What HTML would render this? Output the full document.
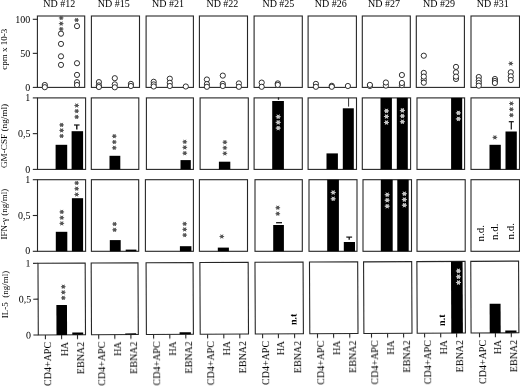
<!DOCTYPE html>
<html><head><meta charset="utf-8"><style>
html,body{margin:0;padding:0;background:#fff;}
body{width:520px;height:387px;overflow:hidden;}
svg{display:block;font-family:"Liberation Serif", serif;filter:grayscale(1);}
</style></head><body>
<svg width="520" height="387" viewBox="0 0 520 387" font-family='"Liberation Serif", serif' fill="#000">
<defs><filter id="b" x="0" y="0" width="1" height="1"><feGaussianBlur stdDeviation="0.35"/></filter></defs>
<rect width="520" height="387" fill="#fff"/>
<g filter="url(#b)">
<text x="59.25" y="7.00" font-size="10" text-anchor="middle" >ND #12</text>
<text x="113.85" y="7.00" font-size="10" text-anchor="middle" >ND #15</text>
<text x="168.00" y="7.00" font-size="10" text-anchor="middle" >ND #21</text>
<text x="222.40" y="7.00" font-size="10" text-anchor="middle" >ND #22</text>
<text x="278.40" y="7.00" font-size="10" text-anchor="middle" >ND #25</text>
<text x="330.85" y="7.00" font-size="10" text-anchor="middle" >ND #26</text>
<text x="384.05" y="7.00" font-size="10" text-anchor="middle" >ND #27</text>
<text x="439.05" y="7.00" font-size="10" text-anchor="middle" >ND #29</text>
<text x="492.75" y="7.00" font-size="10" text-anchor="middle" >ND #31</text>
<rect x="37.4" y="16.0" width="47.30" height="71.40" fill="none" stroke="#262626" stroke-width="1.1"/>
<rect x="91.4" y="16.0" width="48.10" height="71.40" fill="none" stroke="#262626" stroke-width="1.1"/>
<rect x="146.1" y="16.0" width="47.30" height="71.40" fill="none" stroke="#262626" stroke-width="1.1"/>
<rect x="199.4" y="16.0" width="48.10" height="71.40" fill="none" stroke="#262626" stroke-width="1.1"/>
<rect x="254.1" y="16.0" width="48.20" height="71.40" fill="none" stroke="#262626" stroke-width="1.1"/>
<rect x="308.1" y="16.0" width="48.30" height="71.40" fill="none" stroke="#262626" stroke-width="1.1"/>
<rect x="362.3" y="16.0" width="48.00" height="71.40" fill="none" stroke="#262626" stroke-width="1.1"/>
<rect x="416.3" y="16.0" width="48.10" height="71.40" fill="none" stroke="#262626" stroke-width="1.1"/>
<rect x="471.0" y="16.0" width="48.50" height="71.40" fill="none" stroke="#262626" stroke-width="1.1"/>
<rect x="37.5" y="97.9" width="48.10" height="71.50" fill="none" stroke="#262626" stroke-width="1.1"/>
<rect x="91.3" y="97.9" width="47.50" height="71.50" fill="none" stroke="#262626" stroke-width="1.1"/>
<rect x="146.4" y="97.9" width="47.00" height="71.50" fill="none" stroke="#262626" stroke-width="1.1"/>
<rect x="200.1" y="97.9" width="48.20" height="71.50" fill="none" stroke="#262626" stroke-width="1.1"/>
<rect x="254.1" y="97.9" width="48.20" height="71.50" fill="none" stroke="#262626" stroke-width="1.1"/>
<rect x="308.1" y="97.9" width="48.40" height="71.50" fill="none" stroke="#262626" stroke-width="1.1"/>
<rect x="362.3" y="97.9" width="48.30" height="71.50" fill="none" stroke="#262626" stroke-width="1.1"/>
<rect x="417.0" y="97.9" width="47.60" height="71.50" fill="none" stroke="#262626" stroke-width="1.1"/>
<rect x="471.0" y="97.9" width="48.50" height="71.50" fill="none" stroke="#262626" stroke-width="1.1"/>
<rect x="37.5" y="179.7" width="48.10" height="71.60" fill="none" stroke="#262626" stroke-width="1.1"/>
<rect x="91.4" y="179.7" width="47.30" height="71.60" fill="none" stroke="#262626" stroke-width="1.1"/>
<rect x="145.4" y="179.7" width="48.00" height="71.60" fill="none" stroke="#262626" stroke-width="1.1"/>
<rect x="199.4" y="179.7" width="48.10" height="71.60" fill="none" stroke="#262626" stroke-width="1.1"/>
<rect x="255.0" y="179.7" width="47.30" height="71.60" fill="none" stroke="#262626" stroke-width="1.1"/>
<rect x="309.0" y="179.7" width="48.00" height="71.60" fill="none" stroke="#262626" stroke-width="1.1"/>
<rect x="363.0" y="179.7" width="48.50" height="71.60" fill="none" stroke="#262626" stroke-width="1.1"/>
<rect x="417.0" y="179.7" width="48.20" height="71.60" fill="none" stroke="#262626" stroke-width="1.1"/>
<rect x="471.0" y="179.7" width="48.50" height="71.60" fill="none" stroke="#262626" stroke-width="1.1"/>
<line x1="32.8" y1="19.3" x2="37.4" y2="19.3" stroke="#262626" stroke-width="1.1"/>
<line x1="32.8" y1="53.35" x2="37.4" y2="53.35" stroke="#262626" stroke-width="1.1"/>
<line x1="32.8" y1="87.4" x2="37.4" y2="87.4" stroke="#262626" stroke-width="1.1"/>
<text x="30.30" y="22.50" font-size="10" text-anchor="end" >100</text>
<text x="30.30" y="56.55" font-size="10" text-anchor="end" >50</text>
<text x="30.30" y="90.60" font-size="10" text-anchor="end" >0</text>
<line x1="32.8" y1="97.9" x2="37.5" y2="97.9" stroke="#262626" stroke-width="1.1"/>
<line x1="32.8" y1="133.65" x2="37.5" y2="133.65" stroke="#262626" stroke-width="1.1"/>
<line x1="32.8" y1="169.4" x2="37.5" y2="169.4" stroke="#262626" stroke-width="1.1"/>
<text x="30.30" y="101.00" font-size="10" text-anchor="end" >1</text>
<text x="30.60" y="136.75" font-size="10" text-anchor="end" >0,5</text>
<text x="30.30" y="172.50" font-size="10" text-anchor="end" >0</text>
<line x1="32.8" y1="179.7" x2="37.5" y2="179.7" stroke="#262626" stroke-width="1.1"/>
<line x1="32.8" y1="215.5" x2="37.5" y2="215.5" stroke="#262626" stroke-width="1.1"/>
<line x1="32.8" y1="251.3" x2="37.5" y2="251.3" stroke="#262626" stroke-width="1.1"/>
<text x="30.30" y="182.80" font-size="10" text-anchor="end" >1</text>
<text x="30.60" y="218.60" font-size="10" text-anchor="end" >0,5</text>
<text x="30.30" y="254.40" font-size="10" text-anchor="end" >0</text>
<text transform="translate(7.30,49.20) rotate(-90)" font-size="9" text-anchor="middle" >cpm x 10-3</text>
<text transform="translate(7.30,136.00) rotate(-90)" font-size="9.2" text-anchor="middle" >GM-CSF (ng/ml)</text>
<text transform="translate(7.30,214.20) rotate(-90)" font-size="9" text-anchor="middle" >IFN-γ (ng/ml)</text>
<text transform="translate(7.60,294.50) rotate(-90)" font-size="9" text-anchor="middle" >IL-5  (ng/ml)</text>
<circle cx="44.8" cy="85" r="2.6" fill="#fff" stroke="#1a1a1a" stroke-width="0.9"/>
<circle cx="44.8" cy="87.2" r="2.6" fill="#fff" stroke="#1a1a1a" stroke-width="0.9"/>
<circle cx="61.0" cy="33.7" r="2.6" fill="#fff" stroke="#1a1a1a" stroke-width="0.9"/>
<circle cx="61.0" cy="43.9" r="2.6" fill="#fff" stroke="#1a1a1a" stroke-width="0.9"/>
<circle cx="61.0" cy="56.3" r="2.6" fill="#fff" stroke="#1a1a1a" stroke-width="0.9"/>
<circle cx="61.0" cy="64.9" r="2.6" fill="#fff" stroke="#1a1a1a" stroke-width="0.9"/>
<circle cx="77.0" cy="26.1" r="2.6" fill="#fff" stroke="#1a1a1a" stroke-width="0.9"/>
<circle cx="77.0" cy="63.2" r="2.6" fill="#fff" stroke="#1a1a1a" stroke-width="0.9"/>
<circle cx="77.0" cy="74.9" r="2.6" fill="#fff" stroke="#1a1a1a" stroke-width="0.9"/>
<circle cx="77.0" cy="82.2" r="2.6" fill="#fff" stroke="#1a1a1a" stroke-width="0.9"/>
<circle cx="77.0" cy="85" r="2.6" fill="#fff" stroke="#1a1a1a" stroke-width="0.9"/>
<circle cx="98.9" cy="82.1" r="2.6" fill="#fff" stroke="#1a1a1a" stroke-width="0.9"/>
<circle cx="98.9" cy="85.4" r="2.6" fill="#fff" stroke="#1a1a1a" stroke-width="0.9"/>
<circle cx="98.9" cy="87" r="2.6" fill="#fff" stroke="#1a1a1a" stroke-width="0.9"/>
<circle cx="114.8" cy="78.2" r="2.6" fill="#fff" stroke="#1a1a1a" stroke-width="0.9"/>
<circle cx="114.8" cy="84.4" r="2.6" fill="#fff" stroke="#1a1a1a" stroke-width="0.9"/>
<circle cx="114.8" cy="87.3" r="2.6" fill="#fff" stroke="#1a1a1a" stroke-width="0.9"/>
<circle cx="130.9" cy="83.9" r="2.6" fill="#fff" stroke="#1a1a1a" stroke-width="0.9"/>
<circle cx="130.9" cy="86" r="2.6" fill="#fff" stroke="#1a1a1a" stroke-width="0.9"/>
<circle cx="153.7" cy="81.8" r="2.6" fill="#fff" stroke="#1a1a1a" stroke-width="0.9"/>
<circle cx="153.7" cy="84.4" r="2.6" fill="#fff" stroke="#1a1a1a" stroke-width="0.9"/>
<circle cx="153.7" cy="86.5" r="2.6" fill="#fff" stroke="#1a1a1a" stroke-width="0.9"/>
<circle cx="169.8" cy="78.7" r="2.6" fill="#fff" stroke="#1a1a1a" stroke-width="0.9"/>
<circle cx="169.8" cy="82.8" r="2.6" fill="#fff" stroke="#1a1a1a" stroke-width="0.9"/>
<circle cx="169.8" cy="86" r="2.6" fill="#fff" stroke="#1a1a1a" stroke-width="0.9"/>
<circle cx="185.8" cy="86.5" r="2.6" fill="#fff" stroke="#1a1a1a" stroke-width="0.9"/>
<circle cx="206.9" cy="79.5" r="2.6" fill="#fff" stroke="#1a1a1a" stroke-width="0.9"/>
<circle cx="206.9" cy="84.1" r="2.6" fill="#fff" stroke="#1a1a1a" stroke-width="0.9"/>
<circle cx="206.9" cy="86.8" r="2.6" fill="#fff" stroke="#1a1a1a" stroke-width="0.9"/>
<circle cx="222.8" cy="75.6" r="2.6" fill="#fff" stroke="#1a1a1a" stroke-width="0.9"/>
<circle cx="222.8" cy="83.9" r="2.6" fill="#fff" stroke="#1a1a1a" stroke-width="0.9"/>
<circle cx="222.8" cy="86" r="2.6" fill="#fff" stroke="#1a1a1a" stroke-width="0.9"/>
<circle cx="238.9" cy="83.4" r="2.6" fill="#fff" stroke="#1a1a1a" stroke-width="0.9"/>
<circle cx="238.9" cy="86.8" r="2.6" fill="#fff" stroke="#1a1a1a" stroke-width="0.9"/>
<circle cx="261.7" cy="82.6" r="2.6" fill="#fff" stroke="#1a1a1a" stroke-width="0.9"/>
<circle cx="261.7" cy="86.8" r="2.6" fill="#fff" stroke="#1a1a1a" stroke-width="0.9"/>
<circle cx="277.8" cy="83.4" r="2.6" fill="#fff" stroke="#1a1a1a" stroke-width="0.9"/>
<circle cx="277.8" cy="84.9" r="2.6" fill="#fff" stroke="#1a1a1a" stroke-width="0.9"/>
<circle cx="315.9" cy="83.9" r="2.6" fill="#fff" stroke="#1a1a1a" stroke-width="0.9"/>
<circle cx="315.9" cy="86.8" r="2.6" fill="#fff" stroke="#1a1a1a" stroke-width="0.9"/>
<circle cx="331.8" cy="85.8" r="2.6" fill="#fff" stroke="#1a1a1a" stroke-width="0.9"/>
<circle cx="331.8" cy="86.8" r="2.6" fill="#fff" stroke="#1a1a1a" stroke-width="0.9"/>
<circle cx="347.9" cy="86" r="2.6" fill="#fff" stroke="#1a1a1a" stroke-width="0.9"/>
<circle cx="369.9" cy="86" r="2.6" fill="#fff" stroke="#1a1a1a" stroke-width="0.9"/>
<circle cx="369.9" cy="84.9" r="2.6" fill="#fff" stroke="#1a1a1a" stroke-width="0.9"/>
<circle cx="385.9" cy="85.6" r="2.6" fill="#fff" stroke="#1a1a1a" stroke-width="0.9"/>
<circle cx="385.9" cy="82.5" r="2.6" fill="#fff" stroke="#1a1a1a" stroke-width="0.9"/>
<circle cx="401.9" cy="75.0" r="2.6" fill="#fff" stroke="#1a1a1a" stroke-width="0.9"/>
<circle cx="401.9" cy="85.2" r="2.6" fill="#fff" stroke="#1a1a1a" stroke-width="0.9"/>
<circle cx="401.9" cy="83.0" r="2.6" fill="#fff" stroke="#1a1a1a" stroke-width="0.9"/>
<circle cx="423.8" cy="55.7" r="2.6" fill="#fff" stroke="#1a1a1a" stroke-width="0.9"/>
<circle cx="423.8" cy="72.9" r="2.6" fill="#fff" stroke="#1a1a1a" stroke-width="0.9"/>
<circle cx="423.8" cy="79.7" r="2.6" fill="#fff" stroke="#1a1a1a" stroke-width="0.9"/>
<circle cx="423.8" cy="76.6" r="2.6" fill="#fff" stroke="#1a1a1a" stroke-width="0.9"/>
<circle cx="423.8" cy="82.7" r="2.6" fill="#fff" stroke="#1a1a1a" stroke-width="0.9"/>
<circle cx="456.0" cy="79" r="2.6" fill="#fff" stroke="#1a1a1a" stroke-width="0.9"/>
<circle cx="456.0" cy="72.3" r="2.6" fill="#fff" stroke="#1a1a1a" stroke-width="0.9"/>
<circle cx="456.0" cy="66.9" r="2.6" fill="#fff" stroke="#1a1a1a" stroke-width="0.9"/>
<circle cx="456.0" cy="76.6" r="2.6" fill="#fff" stroke="#1a1a1a" stroke-width="0.9"/>
<circle cx="478.8" cy="77" r="2.6" fill="#fff" stroke="#1a1a1a" stroke-width="0.9"/>
<circle cx="478.8" cy="80.3" r="2.6" fill="#fff" stroke="#1a1a1a" stroke-width="0.9"/>
<circle cx="478.8" cy="83" r="2.6" fill="#fff" stroke="#1a1a1a" stroke-width="0.9"/>
<circle cx="478.8" cy="85.7" r="2.6" fill="#fff" stroke="#1a1a1a" stroke-width="0.9"/>
<circle cx="494.9" cy="79" r="2.6" fill="#fff" stroke="#1a1a1a" stroke-width="0.9"/>
<circle cx="494.9" cy="81" r="2.6" fill="#fff" stroke="#1a1a1a" stroke-width="0.9"/>
<circle cx="494.9" cy="83" r="2.6" fill="#fff" stroke="#1a1a1a" stroke-width="0.9"/>
<circle cx="510.8" cy="72.3" r="2.6" fill="#fff" stroke="#1a1a1a" stroke-width="0.9"/>
<circle cx="510.8" cy="76.3" r="2.6" fill="#fff" stroke="#1a1a1a" stroke-width="0.9"/>
<circle cx="510.8" cy="80" r="2.6" fill="#fff" stroke="#1a1a1a" stroke-width="0.9"/>
<path d="M59.25,17.90L63.15,17.90M60.23,16.21L62.18,19.59M62.18,16.21L60.23,19.59" stroke="#555555" stroke-width="0.9" stroke-linecap="round" fill="none"/><circle cx="61.20" cy="17.90" r="1.6" fill="#555555"/>
<path d="M59.25,23.60L63.15,23.60M60.23,21.91L62.18,25.29M62.18,21.91L60.23,25.29" stroke="#555555" stroke-width="0.9" stroke-linecap="round" fill="none"/><circle cx="61.20" cy="23.60" r="1.6" fill="#555555"/>
<path d="M59.25,29.00L63.15,29.00M60.23,27.31L62.18,30.69M62.18,27.31L60.23,30.69" stroke="#555555" stroke-width="0.9" stroke-linecap="round" fill="none"/><circle cx="61.20" cy="29.00" r="1.6" fill="#555555"/>
<path d="M74.65,20.00L78.55,20.00M75.62,18.31L77.57,21.69M77.57,18.31L75.62,21.69" stroke="#555555" stroke-width="0.9" stroke-linecap="round" fill="none"/><circle cx="76.60" cy="20.00" r="1.6" fill="#555555"/>
<path d="M508.85,63.50L512.75,63.50M509.82,61.81L511.78,65.19M511.78,61.81L509.82,65.19" stroke="#555555" stroke-width="0.9" stroke-linecap="round" fill="none"/><circle cx="510.80" cy="63.50" r="1.6" fill="#555555"/>
<rect x="55.6" y="144.8" width="11.60" height="24.60" fill="#000"/>
<rect x="71.6" y="131.2" width="11.50" height="38.20" fill="#000"/>
<rect x="109.5" y="155.8" width="10.80" height="13.60" fill="#000"/>
<rect x="180.5" y="160.1" width="10.30" height="9.30" fill="#000"/>
<rect x="218.9" y="161.7" width="11.40" height="7.70" fill="#000"/>
<rect x="272.2" y="101.0" width="11.70" height="68.40" fill="#000"/>
<rect x="326.5" y="153.4" width="11.40" height="16.00" fill="#000"/>
<rect x="342.8" y="108.3" width="11.00" height="61.10" fill="#000"/>
<rect x="380.5" y="97.9" width="11.40" height="71.50" fill="#000"/>
<rect x="396.8" y="97.9" width="11.00" height="71.50" fill="#000"/>
<rect x="451.1" y="97.9" width="11.10" height="71.50" fill="#000"/>
<rect x="489.5" y="144.8" width="11.30" height="24.60" fill="#000"/>
<rect x="505.5" y="131.5" width="11.30" height="37.90" fill="#000"/>
<line x1="76.8" y1="125.0" x2="76.8" y2="129.4" stroke="#111" stroke-width="1.4"/><line x1="74.0" y1="125.0" x2="79.6" y2="125.0" stroke="#111" stroke-width="1.2"/>
<line x1="511.3" y1="121.7" x2="511.3" y2="129.5" stroke="#111" stroke-width="1.2"/><line x1="508.8" y1="121.7" x2="513.8" y2="121.7" stroke="#111" stroke-width="1.2"/>
<line x1="278.5" y1="97.30000000000001" x2="278.5" y2="99.8" stroke="#222" stroke-width="1.3"/>
<line x1="348.6" y1="97.9" x2="348.6" y2="106.6" stroke="#333" stroke-width="1.0"/>
<path d="M59.65,124.90L63.55,124.90M60.62,123.21L62.58,126.59M62.58,123.21L60.62,126.59" stroke="#555555" stroke-width="0.9" stroke-linecap="round" fill="none"/><circle cx="61.60" cy="124.90" r="1.6" fill="#555555"/>
<path d="M59.65,130.40L63.55,130.40M60.62,128.71L62.58,132.09M62.58,128.71L60.62,132.09" stroke="#555555" stroke-width="0.9" stroke-linecap="round" fill="none"/><circle cx="61.60" cy="130.40" r="1.6" fill="#555555"/>
<path d="M59.65,136.00L63.55,136.00M60.62,134.31L62.58,137.69M62.58,134.31L60.62,137.69" stroke="#555555" stroke-width="0.9" stroke-linecap="round" fill="none"/><circle cx="61.60" cy="136.00" r="1.6" fill="#555555"/>
<path d="M74.75,105.50L78.65,105.50M75.73,103.81L77.67,107.19M77.67,103.81L75.73,107.19" stroke="#555555" stroke-width="0.9" stroke-linecap="round" fill="none"/><circle cx="76.70" cy="105.50" r="1.6" fill="#555555"/>
<path d="M74.75,111.10L78.65,111.10M75.73,109.41L77.67,112.79M77.67,109.41L75.73,112.79" stroke="#555555" stroke-width="0.9" stroke-linecap="round" fill="none"/><circle cx="76.70" cy="111.10" r="1.6" fill="#555555"/>
<path d="M74.75,116.90L78.65,116.90M75.73,115.21L77.67,118.59M77.67,115.21L75.73,118.59" stroke="#555555" stroke-width="0.9" stroke-linecap="round" fill="none"/><circle cx="76.70" cy="116.90" r="1.6" fill="#555555"/>
<path d="M112.35,136.20L116.25,136.20M113.33,134.51L115.27,137.89M115.27,134.51L113.33,137.89" stroke="#555555" stroke-width="0.9" stroke-linecap="round" fill="none"/><circle cx="114.30" cy="136.20" r="1.6" fill="#555555"/>
<path d="M112.35,142.00L116.25,142.00M113.33,140.31L115.27,143.69M115.27,140.31L113.33,143.69" stroke="#555555" stroke-width="0.9" stroke-linecap="round" fill="none"/><circle cx="114.30" cy="142.00" r="1.6" fill="#555555"/>
<path d="M112.35,147.80L116.25,147.80M113.33,146.11L115.27,149.49M115.27,146.11L113.33,149.49" stroke="#555555" stroke-width="0.9" stroke-linecap="round" fill="none"/><circle cx="114.30" cy="147.80" r="1.6" fill="#555555"/>
<path d="M182.85,141.80L186.75,141.80M183.83,140.11L185.78,143.49M185.78,140.11L183.83,143.49" stroke="#555555" stroke-width="0.9" stroke-linecap="round" fill="none"/><circle cx="184.80" cy="141.80" r="1.6" fill="#555555"/>
<path d="M182.85,147.40L186.75,147.40M183.83,145.71L185.78,149.09M185.78,145.71L183.83,149.09" stroke="#555555" stroke-width="0.9" stroke-linecap="round" fill="none"/><circle cx="184.80" cy="147.40" r="1.6" fill="#555555"/>
<path d="M182.85,153.20L186.75,153.20M183.83,151.51L185.78,154.89M185.78,151.51L183.83,154.89" stroke="#555555" stroke-width="0.9" stroke-linecap="round" fill="none"/><circle cx="184.80" cy="153.20" r="1.6" fill="#555555"/>
<path d="M222.95,142.20L226.85,142.20M223.93,140.51L225.88,143.89M225.88,140.51L223.93,143.89" stroke="#555555" stroke-width="0.9" stroke-linecap="round" fill="none"/><circle cx="224.90" cy="142.20" r="1.6" fill="#555555"/>
<path d="M222.95,147.80L226.85,147.80M223.93,146.11L225.88,149.49M225.88,146.11L223.93,149.49" stroke="#555555" stroke-width="0.9" stroke-linecap="round" fill="none"/><circle cx="224.90" cy="147.80" r="1.6" fill="#555555"/>
<path d="M222.95,153.40L226.85,153.40M223.93,151.71L225.88,155.09M225.88,151.71L223.93,155.09" stroke="#555555" stroke-width="0.9" stroke-linecap="round" fill="none"/><circle cx="224.90" cy="153.40" r="1.6" fill="#555555"/>
<path d="M276.05,116.70L280.35,116.70M277.12,114.84L279.27,118.56M279.27,114.84L277.12,118.56" stroke="#c4c4c4" stroke-width="1.0" stroke-linecap="round" fill="none"/><circle cx="278.20" cy="116.70" r="1.8" fill="#c4c4c4"/>
<path d="M276.05,122.40L280.35,122.40M277.12,120.54L279.27,124.26M279.27,120.54L277.12,124.26" stroke="#c4c4c4" stroke-width="1.0" stroke-linecap="round" fill="none"/><circle cx="278.20" cy="122.40" r="1.8" fill="#c4c4c4"/>
<path d="M276.05,128.10L280.35,128.10M277.12,126.24L279.27,129.96M279.27,126.24L277.12,129.96" stroke="#c4c4c4" stroke-width="1.0" stroke-linecap="round" fill="none"/><circle cx="278.20" cy="128.10" r="1.8" fill="#c4c4c4"/>
<path d="M384.35,110.90L388.65,110.90M385.43,109.04L387.57,112.76M387.57,109.04L385.43,112.76" stroke="#c4c4c4" stroke-width="1.0" stroke-linecap="round" fill="none"/><circle cx="386.50" cy="110.90" r="1.8" fill="#c4c4c4"/>
<path d="M384.35,116.50L388.65,116.50M385.43,114.64L387.57,118.36M387.57,114.64L385.43,118.36" stroke="#c4c4c4" stroke-width="1.0" stroke-linecap="round" fill="none"/><circle cx="386.50" cy="116.50" r="1.8" fill="#c4c4c4"/>
<path d="M384.35,122.50L388.65,122.50M385.43,120.64L387.57,124.36M387.57,120.64L385.43,124.36" stroke="#c4c4c4" stroke-width="1.0" stroke-linecap="round" fill="none"/><circle cx="386.50" cy="122.50" r="1.8" fill="#c4c4c4"/>
<path d="M400.25,110.40L404.55,110.40M401.32,108.54L403.47,112.26M403.47,108.54L401.32,112.26" stroke="#c4c4c4" stroke-width="1.0" stroke-linecap="round" fill="none"/><circle cx="402.40" cy="110.40" r="1.8" fill="#c4c4c4"/>
<path d="M400.25,116.00L404.55,116.00M401.32,114.14L403.47,117.86M403.47,114.14L401.32,117.86" stroke="#c4c4c4" stroke-width="1.0" stroke-linecap="round" fill="none"/><circle cx="402.40" cy="116.00" r="1.8" fill="#c4c4c4"/>
<path d="M400.25,121.70L404.55,121.70M401.32,119.84L403.47,123.56M403.47,119.84L401.32,123.56" stroke="#c4c4c4" stroke-width="1.0" stroke-linecap="round" fill="none"/><circle cx="402.40" cy="121.70" r="1.8" fill="#c4c4c4"/>
<path d="M456.25,112.90L460.55,112.90M457.32,111.04L459.47,114.76M459.47,111.04L457.32,114.76" stroke="#c4c4c4" stroke-width="1.0" stroke-linecap="round" fill="none"/><circle cx="458.40" cy="112.90" r="1.8" fill="#c4c4c4"/>
<path d="M456.25,118.90L460.55,118.90M457.32,117.04L459.47,120.76M459.47,117.04L457.32,120.76" stroke="#c4c4c4" stroke-width="1.0" stroke-linecap="round" fill="none"/><circle cx="458.40" cy="118.90" r="1.8" fill="#c4c4c4"/>
<path d="M492.95,137.40L496.85,137.40M493.92,135.71L495.88,139.09M495.88,135.71L493.92,139.09" stroke="#555555" stroke-width="0.9" stroke-linecap="round" fill="none"/><circle cx="494.90" cy="137.40" r="1.6" fill="#555555"/>
<path d="M509.45,103.50L513.35,103.50M510.42,101.81L512.38,105.19M512.38,101.81L510.42,105.19" stroke="#555555" stroke-width="0.9" stroke-linecap="round" fill="none"/><circle cx="511.40" cy="103.50" r="1.6" fill="#555555"/>
<path d="M509.45,109.30L513.35,109.30M510.42,107.61L512.38,110.99M512.38,107.61L510.42,110.99" stroke="#555555" stroke-width="0.9" stroke-linecap="round" fill="none"/><circle cx="511.40" cy="109.30" r="1.6" fill="#555555"/>
<path d="M509.45,115.20L513.35,115.20M510.42,113.51L512.38,116.89M512.38,113.51L510.42,116.89" stroke="#555555" stroke-width="0.9" stroke-linecap="round" fill="none"/><circle cx="511.40" cy="115.20" r="1.6" fill="#555555"/>
<rect x="55.8" y="231.8" width="11.50" height="19.50" fill="#000"/>
<rect x="71.9" y="198.2" width="11.20" height="53.10" fill="#000"/>
<rect x="109.8" y="240.1" width="10.90" height="11.20" fill="#000"/>
<rect x="125.7" y="249.6" width="10.70" height="1.70" fill="#000"/>
<rect x="179.9" y="246.2" width="11.50" height="5.10" fill="#000"/>
<rect x="217.8" y="247.6" width="11.10" height="3.70" fill="#000"/>
<rect x="273.2" y="225.0" width="10.70" height="26.30" fill="#000"/>
<rect x="327.2" y="179.7" width="11.70" height="71.60" fill="#000"/>
<rect x="343.8" y="242.0" width="11.20" height="9.30" fill="#000"/>
<rect x="380.8" y="179.7" width="11.90" height="71.60" fill="#000"/>
<rect x="397.3" y="179.7" width="11.40" height="71.60" fill="#000"/>
<line x1="276.1" y1="222.7" x2="282.0" y2="222.7" stroke="#222" stroke-width="1.4"/>
<line x1="349.2" y1="237.1" x2="349.2" y2="239.8" stroke="#111" stroke-width="1.3"/><line x1="346.3" y1="237.1" x2="352.09999999999997" y2="237.1" stroke="#111" stroke-width="1.2"/>
<path d="M59.85,211.90L63.75,211.90M60.82,210.21L62.77,213.59M62.77,210.21L60.82,213.59" stroke="#555555" stroke-width="0.9" stroke-linecap="round" fill="none"/><circle cx="61.80" cy="211.90" r="1.6" fill="#555555"/>
<path d="M59.85,217.70L63.75,217.70M60.82,216.01L62.77,219.39M62.77,216.01L60.82,219.39" stroke="#555555" stroke-width="0.9" stroke-linecap="round" fill="none"/><circle cx="61.80" cy="217.70" r="1.6" fill="#555555"/>
<path d="M59.85,223.40L63.75,223.40M60.82,221.71L62.77,225.09M62.77,221.71L60.82,225.09" stroke="#555555" stroke-width="0.9" stroke-linecap="round" fill="none"/><circle cx="61.80" cy="223.40" r="1.6" fill="#555555"/>
<path d="M74.75,183.00L78.65,183.00M75.73,181.31L77.67,184.69M77.67,181.31L75.73,184.69" stroke="#555555" stroke-width="0.9" stroke-linecap="round" fill="none"/><circle cx="76.70" cy="183.00" r="1.6" fill="#555555"/>
<path d="M74.75,188.70L78.65,188.70M75.73,187.01L77.67,190.39M77.67,187.01L75.73,190.39" stroke="#555555" stroke-width="0.9" stroke-linecap="round" fill="none"/><circle cx="76.70" cy="188.70" r="1.6" fill="#555555"/>
<path d="M74.75,194.50L78.65,194.50M75.73,192.81L77.67,196.19M77.67,192.81L75.73,196.19" stroke="#555555" stroke-width="0.9" stroke-linecap="round" fill="none"/><circle cx="76.70" cy="194.50" r="1.6" fill="#555555"/>
<path d="M112.65,224.00L116.55,224.00M113.62,222.31L115.57,225.69M115.57,222.31L113.62,225.69" stroke="#555555" stroke-width="0.9" stroke-linecap="round" fill="none"/><circle cx="114.60" cy="224.00" r="1.6" fill="#555555"/>
<path d="M112.65,229.80L116.55,229.80M113.62,228.11L115.57,231.49M115.57,228.11L113.62,231.49" stroke="#555555" stroke-width="0.9" stroke-linecap="round" fill="none"/><circle cx="114.60" cy="229.80" r="1.6" fill="#555555"/>
<path d="M182.75,223.80L186.65,223.80M183.72,222.11L185.67,225.49M185.67,222.11L183.72,225.49" stroke="#555555" stroke-width="0.9" stroke-linecap="round" fill="none"/><circle cx="184.70" cy="223.80" r="1.6" fill="#555555"/>
<path d="M182.75,229.40L186.65,229.40M183.72,227.71L185.67,231.09M185.67,227.71L183.72,231.09" stroke="#555555" stroke-width="0.9" stroke-linecap="round" fill="none"/><circle cx="184.70" cy="229.40" r="1.6" fill="#555555"/>
<path d="M182.75,235.10L186.65,235.10M183.72,233.41L185.67,236.79M185.67,233.41L183.72,236.79" stroke="#555555" stroke-width="0.9" stroke-linecap="round" fill="none"/><circle cx="184.70" cy="235.10" r="1.6" fill="#555555"/>
<path d="M219.85,236.50L223.75,236.50M220.83,234.81L222.78,238.19M222.78,234.81L220.83,238.19" stroke="#555555" stroke-width="0.9" stroke-linecap="round" fill="none"/><circle cx="221.80" cy="236.50" r="1.6" fill="#555555"/>
<path d="M275.85,207.70L279.75,207.70M276.82,206.01L278.78,209.39M278.78,206.01L276.82,209.39" stroke="#555555" stroke-width="0.9" stroke-linecap="round" fill="none"/><circle cx="277.80" cy="207.70" r="1.6" fill="#555555"/>
<path d="M275.85,213.70L279.75,213.70M276.82,212.01L278.78,215.39M278.78,212.01L276.82,215.39" stroke="#555555" stroke-width="0.9" stroke-linecap="round" fill="none"/><circle cx="277.80" cy="213.70" r="1.6" fill="#555555"/>
<path d="M331.05,192.50L335.35,192.50M332.12,190.64L334.27,194.36M334.27,190.64L332.12,194.36" stroke="#c4c4c4" stroke-width="1.0" stroke-linecap="round" fill="none"/><circle cx="333.20" cy="192.50" r="1.8" fill="#c4c4c4"/>
<path d="M331.05,198.80L335.35,198.80M332.12,196.94L334.27,200.66M334.27,196.94L332.12,200.66" stroke="#c4c4c4" stroke-width="1.0" stroke-linecap="round" fill="none"/><circle cx="333.20" cy="198.80" r="1.8" fill="#c4c4c4"/>
<path d="M385.05,194.70L389.35,194.70M386.12,192.84L388.27,196.56M388.27,192.84L386.12,196.56" stroke="#c4c4c4" stroke-width="1.0" stroke-linecap="round" fill="none"/><circle cx="387.20" cy="194.70" r="1.8" fill="#c4c4c4"/>
<path d="M385.05,200.20L389.35,200.20M386.12,198.34L388.27,202.06M388.27,198.34L386.12,202.06" stroke="#c4c4c4" stroke-width="1.0" stroke-linecap="round" fill="none"/><circle cx="387.20" cy="200.20" r="1.8" fill="#c4c4c4"/>
<path d="M385.05,206.20L389.35,206.20M386.12,204.34L388.27,208.06M388.27,204.34L386.12,208.06" stroke="#c4c4c4" stroke-width="1.0" stroke-linecap="round" fill="none"/><circle cx="387.20" cy="206.20" r="1.8" fill="#c4c4c4"/>
<path d="M402.25,193.70L406.55,193.70M403.32,191.84L405.47,195.56M405.47,191.84L403.32,195.56" stroke="#c4c4c4" stroke-width="1.0" stroke-linecap="round" fill="none"/><circle cx="404.40" cy="193.70" r="1.8" fill="#c4c4c4"/>
<path d="M402.25,199.60L406.55,199.60M403.32,197.74L405.47,201.46M405.47,197.74L403.32,201.46" stroke="#c4c4c4" stroke-width="1.0" stroke-linecap="round" fill="none"/><circle cx="404.40" cy="199.60" r="1.8" fill="#c4c4c4"/>
<path d="M402.25,205.20L406.55,205.20M403.32,203.34L405.47,207.06M405.47,203.34L403.32,207.06" stroke="#c4c4c4" stroke-width="1.0" stroke-linecap="round" fill="none"/><circle cx="404.40" cy="205.20" r="1.8" fill="#c4c4c4"/>
<text transform="translate(483.90,241.40) rotate(-90)" font-size="11" text-anchor="start" >n.d.</text>
<text transform="translate(497.80,240.00) rotate(-90)" font-size="11" text-anchor="start" >n.d.</text>
<text transform="translate(513.50,239.60) rotate(-90)" font-size="11" text-anchor="start" >n.d.</text>
<g transform="rotate(-0.26,40,335)">
<rect x="38.3" y="263.3" width="47.20" height="71.70" fill="none" stroke="#262626" stroke-width="1.1"/>
<rect x="91.5" y="263.3" width="46.80" height="71.70" fill="none" stroke="#262626" stroke-width="1.1"/>
<rect x="146.4" y="263.3" width="47.00" height="71.70" fill="none" stroke="#262626" stroke-width="1.1"/>
<rect x="200.2" y="263.3" width="48.30" height="71.70" fill="none" stroke="#262626" stroke-width="1.1"/>
<rect x="255.3" y="263.3" width="48.10" height="71.70" fill="none" stroke="#262626" stroke-width="1.1"/>
<rect x="309.8" y="263.3" width="48.20" height="71.70" fill="none" stroke="#262626" stroke-width="1.1"/>
<rect x="363.9" y="263.3" width="48.10" height="71.70" fill="none" stroke="#262626" stroke-width="1.1"/>
<rect x="417.2" y="263.3" width="48.20" height="71.70" fill="none" stroke="#262626" stroke-width="1.1"/>
<rect x="471.1" y="263.3" width="47.80" height="71.70" fill="none" stroke="#262626" stroke-width="1.1"/>
<line x1="33.4" y1="263.3" x2="38.3" y2="263.3" stroke="#262626" stroke-width="1.1"/>
<line x1="33.4" y1="299.15" x2="38.3" y2="299.15" stroke="#262626" stroke-width="1.1"/>
<line x1="33.4" y1="335.0" x2="38.3" y2="335.0" stroke="#262626" stroke-width="1.1"/>
<text x="30.90" y="266.40" font-size="10" text-anchor="end" >1</text>
<text x="31.30" y="302.45" font-size="10" text-anchor="end" >0,5</text>
<text x="30.90" y="338.40" font-size="10" text-anchor="end" >0</text>
<rect x="56.5" y="305.1" width="10.60" height="29.90" fill="#000"/>
<rect x="72.3" y="332.6" width="10.90" height="2.40" fill="#000"/>
<rect x="125.2" y="333.8" width="11.00" height="1.20" fill="#000"/>
<rect x="179.6" y="332.9" width="11.30" height="2.10" fill="#000"/>
<rect x="451.3" y="263.3" width="11.60" height="71.70" fill="#000"/>
<rect x="489.75" y="305.85" width="10.95" height="29.15" fill="#000"/>
<rect x="505.3" y="332.65" width="11.20" height="2.35" fill="#000"/>
<path d="M61.55,286.80L65.45,286.80M62.52,285.11L64.47,288.49M64.47,285.11L62.52,288.49" stroke="#555555" stroke-width="0.9" stroke-linecap="round" fill="none"/><circle cx="63.50" cy="286.80" r="1.6" fill="#555555"/>
<path d="M61.55,292.40L65.45,292.40M62.52,290.71L64.47,294.09M64.47,290.71L62.52,294.09" stroke="#555555" stroke-width="0.9" stroke-linecap="round" fill="none"/><circle cx="63.50" cy="292.40" r="1.6" fill="#555555"/>
<path d="M61.55,298.00L65.45,298.00M62.52,296.31L64.47,299.69M64.47,296.31L62.52,299.69" stroke="#555555" stroke-width="0.9" stroke-linecap="round" fill="none"/><circle cx="63.50" cy="298.00" r="1.6" fill="#555555"/>
<path d="M456.55,272.80L460.85,272.80M457.62,270.94L459.77,274.66M459.77,270.94L457.62,274.66" stroke="#c4c4c4" stroke-width="1.0" stroke-linecap="round" fill="none"/><circle cx="458.70" cy="272.80" r="1.8" fill="#c4c4c4"/>
<path d="M456.55,278.60L460.85,278.60M457.62,276.74L459.77,280.46M459.77,276.74L457.62,280.46" stroke="#c4c4c4" stroke-width="1.0" stroke-linecap="round" fill="none"/><circle cx="458.70" cy="278.60" r="1.8" fill="#c4c4c4"/>
<path d="M456.55,284.40L460.85,284.40M457.62,282.54L459.77,286.26M459.77,282.54L457.62,286.26" stroke="#c4c4c4" stroke-width="1.0" stroke-linecap="round" fill="none"/><circle cx="458.70" cy="284.40" r="1.8" fill="#c4c4c4"/>
<text transform="translate(296.50,326.17) rotate(-90)" font-size="10" text-anchor="start" font-weight="bold">n.t</text>
<text transform="translate(445.10,327.74) rotate(-90)" font-size="10" text-anchor="start" font-weight="bold">n.t</text>
<line x1="45.4" y1="335.0" x2="45.4" y2="339.3" stroke="#262626" stroke-width="1.1"/>
<text transform="translate(51.40,341.90) rotate(-90)" font-size="10" text-anchor="end" >CD4+APC</text>
<line x1="61.6" y1="335.0" x2="61.6" y2="339.3" stroke="#262626" stroke-width="1.1"/>
<text transform="translate(67.60,341.90) rotate(-90)" font-size="10" text-anchor="end" >HA</text>
<line x1="77.5" y1="335.0" x2="77.5" y2="339.3" stroke="#262626" stroke-width="1.1"/>
<text transform="translate(83.50,341.90) rotate(-90)" font-size="10" text-anchor="end" >EBNA2</text>
<line x1="98.7" y1="335.0" x2="98.7" y2="339.3" stroke="#262626" stroke-width="1.1"/>
<text transform="translate(104.70,341.90) rotate(-90)" font-size="10" text-anchor="end" >CD4+APC</text>
<line x1="114.8" y1="335.0" x2="114.8" y2="339.3" stroke="#262626" stroke-width="1.1"/>
<text transform="translate(120.80,341.90) rotate(-90)" font-size="10" text-anchor="end" >HA</text>
<line x1="130.9" y1="335.0" x2="130.9" y2="339.3" stroke="#262626" stroke-width="1.1"/>
<text transform="translate(136.90,341.90) rotate(-90)" font-size="10" text-anchor="end" >EBNA2</text>
<line x1="153.6" y1="335.0" x2="153.6" y2="339.3" stroke="#262626" stroke-width="1.1"/>
<text transform="translate(159.60,341.90) rotate(-90)" font-size="10" text-anchor="end" >CD4+APC</text>
<line x1="169.8" y1="335.0" x2="169.8" y2="339.3" stroke="#262626" stroke-width="1.1"/>
<text transform="translate(175.80,341.90) rotate(-90)" font-size="10" text-anchor="end" >HA</text>
<line x1="185.8" y1="335.0" x2="185.8" y2="339.3" stroke="#262626" stroke-width="1.1"/>
<text transform="translate(191.80,341.90) rotate(-90)" font-size="10" text-anchor="end" >EBNA2</text>
<line x1="207.6" y1="335.0" x2="207.6" y2="339.3" stroke="#262626" stroke-width="1.1"/>
<text transform="translate(213.60,341.90) rotate(-90)" font-size="10" text-anchor="end" >CD4+APC</text>
<line x1="223.8" y1="335.0" x2="223.8" y2="339.3" stroke="#262626" stroke-width="1.1"/>
<text transform="translate(229.80,341.90) rotate(-90)" font-size="10" text-anchor="end" >HA</text>
<line x1="239.8" y1="335.0" x2="239.8" y2="339.3" stroke="#262626" stroke-width="1.1"/>
<text transform="translate(245.80,341.90) rotate(-90)" font-size="10" text-anchor="end" >EBNA2</text>
<line x1="262.6" y1="335.0" x2="262.6" y2="339.3" stroke="#262626" stroke-width="1.1"/>
<text transform="translate(268.60,341.90) rotate(-90)" font-size="10" text-anchor="end" >CD4+APC</text>
<line x1="278.4" y1="335.0" x2="278.4" y2="339.3" stroke="#262626" stroke-width="1.1"/>
<text transform="translate(284.40,341.90) rotate(-90)" font-size="10" text-anchor="end" >HA</text>
<line x1="294.6" y1="335.0" x2="294.6" y2="339.3" stroke="#262626" stroke-width="1.1"/>
<text transform="translate(300.60,341.90) rotate(-90)" font-size="10" text-anchor="end" >EBNA2</text>
<line x1="317.5" y1="335.0" x2="317.5" y2="339.3" stroke="#262626" stroke-width="1.1"/>
<text transform="translate(323.50,341.90) rotate(-90)" font-size="10" text-anchor="end" >CD4+APC</text>
<line x1="333.6" y1="335.0" x2="333.6" y2="339.3" stroke="#262626" stroke-width="1.1"/>
<text transform="translate(339.60,341.90) rotate(-90)" font-size="10" text-anchor="end" >HA</text>
<line x1="349.75" y1="335.0" x2="349.75" y2="339.3" stroke="#262626" stroke-width="1.1"/>
<text transform="translate(355.75,341.90) rotate(-90)" font-size="10" text-anchor="end" >EBNA2</text>
<line x1="371.5" y1="335.0" x2="371.5" y2="339.3" stroke="#262626" stroke-width="1.1"/>
<text transform="translate(377.50,341.90) rotate(-90)" font-size="10" text-anchor="end" >CD4+APC</text>
<line x1="387.6" y1="335.0" x2="387.6" y2="339.3" stroke="#262626" stroke-width="1.1"/>
<text transform="translate(393.60,341.90) rotate(-90)" font-size="10" text-anchor="end" >HA</text>
<line x1="403.6" y1="335.0" x2="403.6" y2="339.3" stroke="#262626" stroke-width="1.1"/>
<text transform="translate(409.60,341.90) rotate(-90)" font-size="10" text-anchor="end" >EBNA2</text>
<line x1="424.6" y1="335.0" x2="424.6" y2="339.3" stroke="#262626" stroke-width="1.1"/>
<text transform="translate(430.60,341.90) rotate(-90)" font-size="10" text-anchor="end" >CD4+APC</text>
<line x1="440.7" y1="335.0" x2="440.7" y2="339.3" stroke="#262626" stroke-width="1.1"/>
<text transform="translate(446.70,341.90) rotate(-90)" font-size="10" text-anchor="end" >HA</text>
<line x1="456.6" y1="335.0" x2="456.6" y2="339.3" stroke="#262626" stroke-width="1.1"/>
<text transform="translate(462.60,341.90) rotate(-90)" font-size="10" text-anchor="end" >EBNA2</text>
<line x1="479.5" y1="335.0" x2="479.5" y2="339.3" stroke="#262626" stroke-width="1.1"/>
<text transform="translate(485.50,341.90) rotate(-90)" font-size="10" text-anchor="end" >CD4+APC</text>
<line x1="495.4" y1="335.0" x2="495.4" y2="339.3" stroke="#262626" stroke-width="1.1"/>
<text transform="translate(501.40,341.90) rotate(-90)" font-size="10" text-anchor="end" >HA</text>
<line x1="511.3" y1="335.0" x2="511.3" y2="339.3" stroke="#262626" stroke-width="1.1"/>
<text transform="translate(517.30,341.90) rotate(-90)" font-size="10" text-anchor="end" >EBNA2</text>
</g>
</g>
</svg>
</body></html>
